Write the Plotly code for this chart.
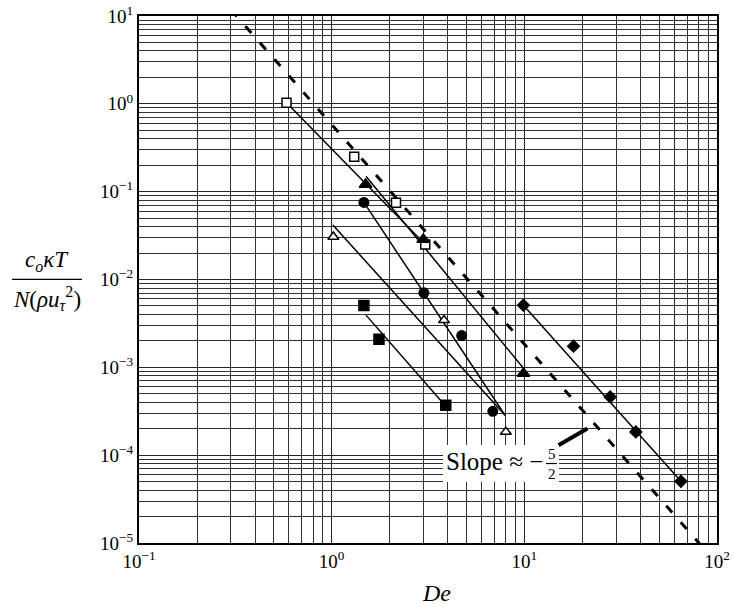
import plotly.graph_objects as go

# ---------------- data ----------------
open_sq_x = [0.583, 1.309, 2.157, 3.06]
open_sq_y = [1.03, 0.249, 0.0747, 0.0251]

fill_tri_x = [1.50, 2.99, 9.9]
fill_tri_y = [0.121, 0.0286, 8.5e-4]

fill_circ_x = [1.47, 3.01, 4.73, 6.86]
fill_circ_y = [0.0755, 7.05e-3, 2.30e-3, 3.16e-4]

open_tri_x = [1.02, 3.83, 8.02]
open_tri_y = [0.0306, 3.44e-3, 1.84e-4]

fill_sq_x = [1.47, 1.76, 3.91]
fill_sq_y = [5.06e-3, 2.09e-3, 3.70e-4]

diam_x = [9.89, 18.0, 27.9, 37.9, 65.0]
diam_y = [5.1e-3, 1.74e-3, 4.6e-4, 1.84e-4, 5.04e-5]

# fitted lines (end points)
fit_open_sq_x = [0.583, 3.06]
fit_open_sq_y = [1.03, 0.0251]
fit_fill_tri_x = [1.507, 9.89]
fit_fill_tri_y = [0.150, 9.77e-4]
fit_fill_circ_x = [1.47, 7.94]
fit_fill_circ_y = [0.0755, 2.85e-4]
fit_open_tri_x = [1.015, 7.94]
fit_open_tri_y = [0.0416, 2.85e-4]
fit_fill_sq_x = [1.507, 3.87]
fit_fill_sq_y = [3.93e-3, 3.70e-4]
fit_diam_x = [9.89, 65.0]
fit_diam_y = [5.1e-3, 5.04e-5]

# reference slope -5/2 line
ref_x = [0.30, 85.0]
ref_y = [11.8, 8.75e-6]

# pointer from the label to the reference line
pointer_x = [15.04, 21.26]
pointer_y = [1.30e-4, 2.01e-4]

x_tickvals = [0.1, 1, 10, 100]
x_ticktext = ["10<sup>−1</sup>", "10<sup>0</sup>", "10<sup>1</sup>", "10<sup>2</sup>"]
y_tickvals = [1e-5, 1e-4, 1e-3, 1e-2, 1e-1, 1, 10]
y_ticktext = ["10<sup>−5</sup>", "10<sup>−4</sup>", "10<sup>−3</sup>", "10<sup>−2</sup>",
              "10<sup>−1</sup>", "10<sup>0</sup>", "10<sup>1</sup>"]

# ---------------- figure ----------------
W, H = 734, 607
ML, MR, MT, MB = 139, 17, 16, 64
PW, PH = W - ML - MR, H - MT - MB


def px(xp):
    return (xp - ML) / PW


def py(yp):
    return (MT + PH - yp) / PH


FONT = "Liberation Serif"
fig = go.Figure()

line_style = dict(color="black", width=1.5)
for fx, fy in [(fit_open_sq_x, fit_open_sq_y), (fit_fill_tri_x, fit_fill_tri_y),
               (fit_fill_circ_x, fit_fill_circ_y), (fit_open_tri_x, fit_open_tri_y),
               (fit_fill_sq_x, fit_fill_sq_y), (fit_diam_x, fit_diam_y)]:
    fig.add_trace(go.Scatter(x=fx, y=fy, mode="lines", line=line_style,
                             showlegend=False, hoverinfo="skip"))

fig.add_trace(go.Scatter(x=ref_x, y=ref_y, mode="lines",
                         line=dict(color="black", width=3, dash="9px,13px"),
                         showlegend=False, hoverinfo="skip"))
fig.add_trace(go.Scatter(x=pointer_x, y=pointer_y, mode="lines",
                         line=dict(color="black", width=4),
                         showlegend=False, hoverinfo="skip"))

markers = [
    (open_sq_x, open_sq_y, "square", "white", 9),
    (fill_tri_x, fill_tri_y, "triangle-up", "black", 11),
    (fill_circ_x, fill_circ_y, "circle", "black", 9.5),
    (open_tri_x, open_tri_y, "triangle-up", "white", 9.5),
    (fill_sq_x, fill_sq_y, "square", "black", 10),
    (diam_x, diam_y, "diamond", "black", 9),
]
for mx, my, sym, col, sz in markers:
    fig.add_trace(go.Scatter(x=mx, y=my, mode="markers",
                             marker=dict(symbol=sym, color=col, size=sz,
                                         line=dict(color="black", width=1.5)),
                             showlegend=False))

minor_vals_x = [m * 10.0 ** e for e in range(-1, 2) for m in range(2, 10)]
minor_vals_y = [m * 10.0 ** e for e in range(-5, 1) for m in range(2, 10)]

axis_common = dict(
    type="log", showgrid=True, gridcolor="#222222", gridwidth=1,
    showline=True, linecolor="black", linewidth=2, mirror=True,
    ticks="", zeroline=False, automargin=False,
    tickfont=dict(family=FONT, size=19, color="black"),
    tickmode="array",
)
fig.update_xaxes(**axis_common, range=[-1, 2], tickvals=x_tickvals, ticktext=x_ticktext,
                 minor=dict(tickmode="array", tickvals=minor_vals_x, showgrid=True,
                            gridcolor="#333333", gridwidth=1, ticks=""))
fig.update_yaxes(**axis_common, range=[-5, 1], tickvals=y_tickvals, ticktext=y_ticktext,
                 minor=dict(tickmode="array", tickvals=minor_vals_y, showgrid=True,
                            gridcolor="#333333", gridwidth=1, ticks=""))

shapes = [
    # white box behind the slope label
    dict(type="rect", xref="paper", yref="paper", x0=px(443), x1=px(559),
         y0=py(482), y1=py(445), fillcolor="white", line=dict(width=0), layer="above"),
    # fraction bar of slope
    dict(type="line", xref="paper", yref="paper", x0=px(546), x1=px(557),
         y0=py(463.5), y1=py(463.5), line=dict(color="black", width=1.2), layer="above"),
    # fraction bar of y label
    dict(type="line", xref="paper", yref="paper", x0=px(12), x1=px(82),
         y0=py(279.3), y1=py(279.3), line=dict(color="black", width=1.3)),
]

annotations = [
    dict(text="<i>De</i>", x=px(436), y=py(593), xref="paper", yref="paper",
         showarrow=False, font=dict(family=FONT, size=24, color="black"),
         xanchor="center", yanchor="middle"),
    dict(text="<i>c<sub>o</sub>κT</i>", x=px(47), y=py(277), xref="paper", yref="paper",
         showarrow=False, font=dict(family=FONT, size=23, color="black"),
         xanchor="center", yanchor="bottom"),
    dict(text="<i>N</i>(<i>ρu<sub>τ</sub></i><sup>2</sup>)", x=px(47), y=py(281),
         xref="paper", yref="paper", showarrow=False,
         font=dict(family=FONT, size=23, color="black"),
         xanchor="center", yanchor="top"),
    dict(text="Slope ≈ −", x=px(545), y=py(461), xref="paper", yref="paper",
         showarrow=False, font=dict(family=FONT, size=25, color="black"),
         xanchor="right", yanchor="middle"),
    dict(text="5", x=px(551.5), y=py(453.5), xref="paper", yref="paper",
         showarrow=False, font=dict(family=FONT, size=15, color="black"),
         xanchor="center", yanchor="middle", borderpad=0),
    dict(text="2", x=px(551.5), y=py(474), xref="paper", yref="paper",
         showarrow=False, font=dict(family=FONT, size=15, color="black"),
         xanchor="center", yanchor="middle", borderpad=0),
]

fig.update_layout(
    width=W, height=H,
    margin=dict(l=ML, r=MR, t=MT, b=MB, autoexpand=False),
    paper_bgcolor="white", plot_bgcolor="white",
    font=dict(family=FONT, color="black"),
    shapes=shapes, annotations=annotations,
    showlegend=False,
)

fig.write_html(
    "out.html",
    config={"displayModeBar": False},
    post_script="document.body.style.margin='0';document.body.style.overflow='hidden';",
)
